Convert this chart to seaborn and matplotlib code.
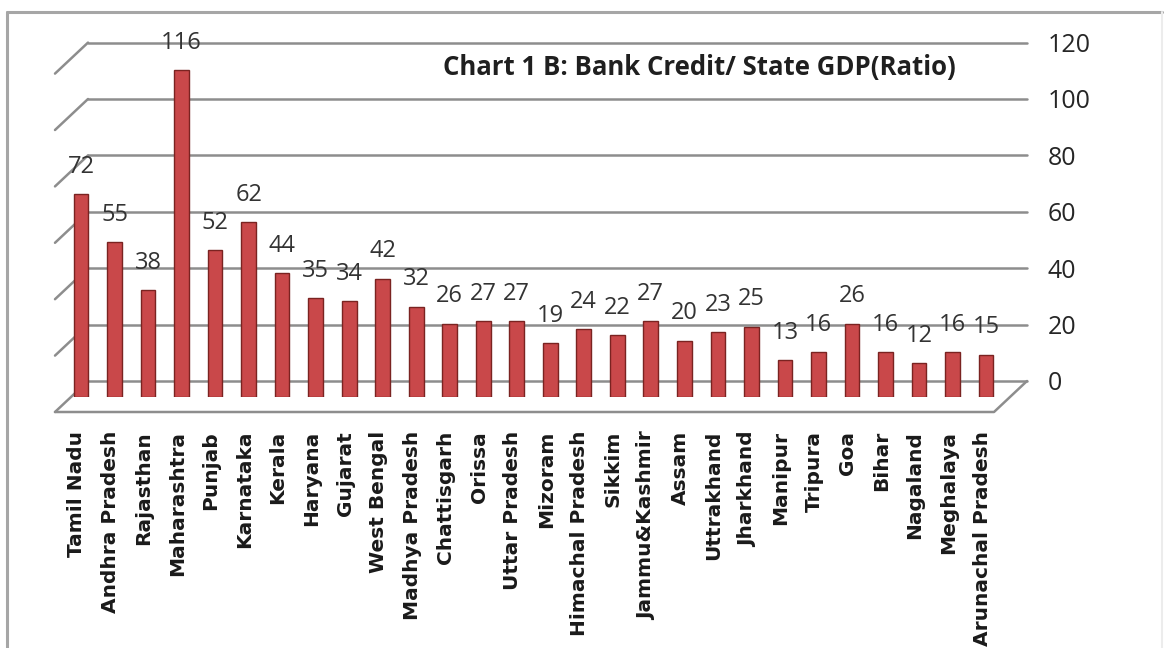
import matplotlib
matplotlib.use("Agg")
import matplotlib.pyplot as plt
import matplotlib.transforms as mtransforms
import seaborn as sns

states = [
    "Tamil Nadu", "Andhra Pradesh", "Rajasthan", "Maharashtra", "Punjab",
    "Karnataka", "Kerala", "Haryana", "Gujarat", "West Bengal",
    "Madhya Pradesh", "Chattisgarh", "Orissa", "Uttar Pradesh", "Mizoram",
    "Himachal Pradesh", "Sikkim", "Jammu&Kashmir", "Assam", "Uttrakhand",
    "Jharkhand", "Manipur", "Tripura", "Goa", "Bihar", "Nagaland",
    "Meghalaya", "Arunachal Pradesh",
]
credit_gdp_ratio = [
    72, 55, 38, 116, 52, 62, 44, 35, 34, 42, 32, 26, 27, 27, 19, 24, 22, 27,
    20, 23, 25, 13, 16, 26, 16, 12, 16, 15,
]
axis_ticks = [0, 20, 40, 60, 80, 100, 120]
title = "Chart 1 B: Bank Credit/ State GDP(Ratio)"

sns.set_theme(style="white")
narrow = ["Open Sans", "DejaVu Sans"]
wide = ["DejaVu Sans", "Noto Sans"]
plt.rcParams["font.family"] = narrow

W, H = 1167, 648
fig = plt.figure(figsize=(W / 100, H / 100), dpi=100)
fig.patch.set_facecolor("white")

# plot frame in pixel units: bar base at y=397, 33.52 px per category, 2.82 px per unit
px_per_cat, px_per_unit = 33.52, 2.82
x0_px, base_px = 81, 397
left = x0_px - 0.5 * px_per_cat
right = x0_px + 27.5 * px_per_cat
ytop = 130
ax = fig.add_axes([left / W, (H - base_px) / H, (right - left) / W, ytop * px_per_unit / H])
ax.set_xlim(-0.5, 27.5)
ax.set_ylim(0, ytop)

# back wall sits 16 px higher than the bar base (depth of the 3-D floor)
depth = 16 / px_per_unit
ax2 = ax.twinx()
ax2.set_ylim(-depth, ytop - depth)
ax.set_zorder(ax2.get_zorder() + 1)
ax.patch.set_visible(False)

grid_c = "#8d8d8d"
wall_l = (88 - x0_px) / px_per_cat
wall_r = (1027 - x0_px) / px_per_cat
side_dx = 33 / px_per_cat
side_dy = 31 / px_per_unit
for v in axis_ticks:
    ax2.plot([wall_l, wall_r], [v, v], color=grid_c, lw=1.8, clip_on=False, zorder=1)
    ax2.plot([wall_l - side_dx, wall_l], [v - side_dy, v], color=grid_c, lw=1.8,
             clip_on=False, zorder=1)
# floor outline
front_y = -side_dy
ax2.plot([wall_r, wall_r - side_dx, wall_l - side_dx],
         [0, front_y, front_y], color=grid_c, lw=1.8, clip_on=False, zorder=1)

ax2.set_yticks(axis_ticks)
ax2.set_yticklabels([str(t) for t in axis_ticks], fontsize=18, color="#262626")
ax2.tick_params(axis="y", length=0, pad=(1048 - right) * 0.72)
for sp in ax2.spines.values():
    sp.set_visible(False)

sns.barplot(x=states, y=credit_gdp_ratio, order=states, color="#C9484A",
            width=0.44, edgecolor="#7a2321", linewidth=1.0, saturation=1,
            ax=ax, zorder=3)
for sp in ax.spines.values():
    sp.set_visible(False)
ax.set_yticks([])
ax.set_xlabel("")
ax.set_ylabel("")

for cont in ax.containers:
    ax.bar_label(cont, labels=[str(v) for v in credit_gdp_ratio], padding=11,
                 fontsize=17, color="#333333")

ax.set_xticks(range(len(states)))
ax.set_xticklabels(states, rotation=90, fontweight="bold", fontsize=14.5,
                   family=wide, color="#1a1a1a")
ax.tick_params(axis="x", length=0, pad=(431 - base_px) * 0.72)
shift = mtransforms.ScaledTranslation(-4 / 100, 0, fig.dpi_scale_trans)
for lab in ax.get_xticklabels():
    lab.set_transform(lab.get_transform() + shift)

fig.text(699 / W, 1 - 75 / H, title, ha="center", va="baseline",
         fontsize=18.5, fontweight="bold", color="#1f1f1f")

# chart border
fig.add_artist(plt.Line2D([7 / W, 7 / W], [0, 1 - 12 / H], transform=fig.transFigure,
                          color="#a6a6a6", lw=2.2))
fig.add_artist(plt.Line2D([7 / W, 1162 / W], [1 - 12 / H, 1 - 12 / H],
                          transform=fig.transFigure, color="#a6a6a6", lw=2.2))
fig.add_artist(plt.Line2D([1162 / W, 1162 / W], [0, 1 - 12 / H],
                          transform=fig.transFigure, color="#ececec", lw=1.5))

fig.savefig("out.png", dpi=100)
